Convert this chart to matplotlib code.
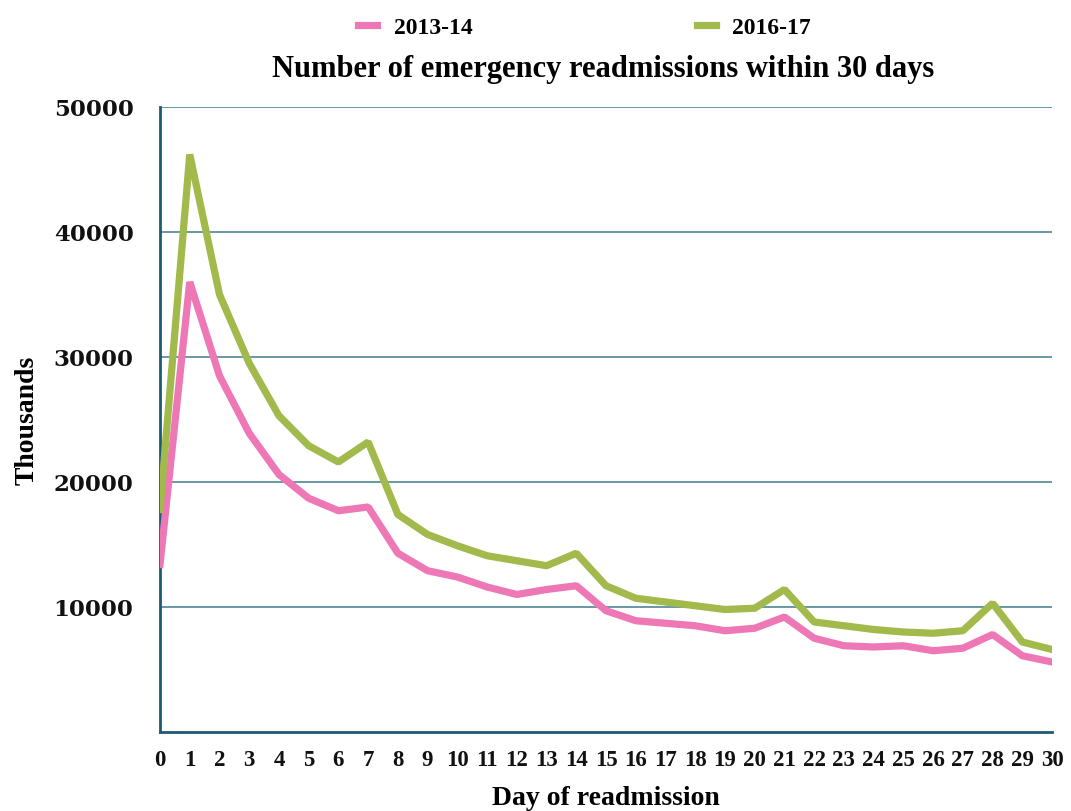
import numpy as np
import matplotlib.pyplot as plt

# Emergency readmissions by day after discharge
days = list(range(31))
readm_2013 = [13400, 36000, 28500, 23900, 20600, 18700, 17700, 18000, 14300, 12900,
              12400, 11600, 11000, 11400, 11700, 9700, 8900, 8700, 8500, 8100,
              8300, 9200, 7500, 6900, 6800, 6900, 6500, 6700, 7800, 6100, 5600]
readm_2016 = [17800, 46200, 35000, 29500, 25300, 22900, 21600, 23200, 17400, 15800,
              14900, 14100, 13700, 13300, 14300, 11700, 10700, 10400, 10100, 9800,
              9900, 11400, 8800, 8500, 8200, 8000, 7900, 8100, 10300, 7200, 6600]
y_ticks = [10000, 20000, 30000, 40000, 50000]

pink = "#ee78b5"
green = "#a2b94b"
axis_col = "#1d5b74"
grid_col = "#4f8797"

plt.rcParams['font.family'] = ['Liberation Serif', 'DejaVu Serif']
plt.rcParams['font.weight'] = 'bold'

fig = plt.figure(figsize=(10.71, 8.12), dpi=100)
ax = fig.add_axes([0.1494, 0.0973, 0.8329, 0.7697])

ax.plot(days, readm_2013, color=pink, lw=5.2, label="2013-14", solid_joinstyle='bevel', zorder=3)
ax.plot(days, readm_2016, color=green, lw=5.2, label="2016-17", solid_joinstyle='bevel', zorder=3)

ax.set_xlim(0, 30)
ax.set_ylim(0, 50000)
ax.set_xticks(days)
ax.set_yticks(y_ticks)
ax.tick_params(axis='both', length=0, colors='#111111')
ax.tick_params(axis='x', pad=12, labelsize=16.5)
ax.tick_params(axis='y', pad=19)
for lab in ax.get_yticklabels():
    lab.set_fontfamily('DejaVu Serif')
    lab.set_fontsize(16.5)
    lab.set_fontweight('bold')
ax.yaxis.grid(True, color=grid_col, lw=1.2)
ax.set_axisbelow(True)

for s in ['top', 'right']:
    ax.spines[s].set_visible(False)
for s in ['left', 'bottom']:
    ax.spines[s].set_color(axis_col)
    ax.spines[s].set_linewidth(2)

ax.set_xlabel("Day of readmission", fontsize=20, fontweight='bold', labelpad=11)
ax.set_ylabel("Thousands", fontsize=20, fontweight='bold', labelpad=10)
fig.text(0.563, 0.914, "Number of emergency readmissions within 30 days",
         ha='center', va='center', fontsize=22, fontweight='bold')

fig.legend(loc='center', bbox_to_anchor=(0.546, 0.965), ncol=2, frameon=False,
           fontsize=17, handlelength=0.8, columnspacing=9.5, handletextpad=0.7)

fig.savefig("out.png", dpi=100)
